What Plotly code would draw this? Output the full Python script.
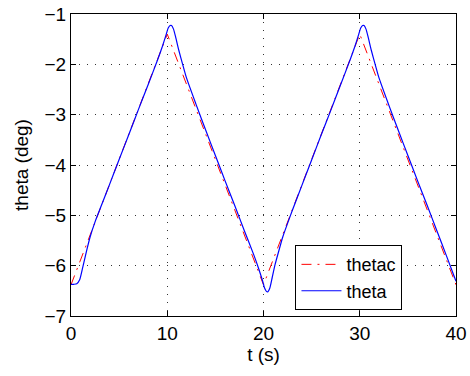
import plotly.graph_objects as go

# thetac (commanded) - triangle reference
t_cmd = [0, 10, 20, 30, 40]
thetac = [-6.38, -1.40, -6.38, -1.40, -6.38]

# theta (response)
t_resp = [0, 0.3, 0.6, 0.9, 1.2, 1.6, 2.0, 2.5, 3.0, 4, 5, 6, 7, 8, 9, 9.5, 9.9,
          10.1, 10.3, 10.45, 10.65, 10.9, 11.2, 11.6, 12, 13, 14, 15, 16, 17, 18,
          19, 19.5, 19.9, 20.1, 20.3, 20.45, 20.65, 20.9, 21.2, 21.6, 22, 22.5,
          23, 24, 25, 26, 27, 28, 29, 29.5, 29.9, 30.1, 30.3, 30.45, 30.65, 30.9,
          31.2, 31.6, 32, 33, 34, 35, 36, 37, 38, 39, 40]
theta = [-6.37, -6.37, -6.36, -6.28, -6.05, -5.72, -5.42, -5.13, -4.88, -4.39,
         -3.89, -3.40, -2.90, -2.41, -1.91, -1.64, -1.40, -1.28, -1.23, -1.23,
         -1.30, -1.48, -1.72, -2.00, -2.27, -2.80, -3.31, -3.81, -4.31, -4.80,
         -5.30, -5.79, -6.06, -6.30, -6.44, -6.51, -6.52, -6.45, -6.24, -5.98,
         -5.70, -5.43, -5.16, -4.90, -4.40, -3.90, -3.40, -2.91, -2.41, -1.91,
         -1.64, -1.40, -1.28, -1.23, -1.23, -1.30, -1.48, -1.72, -2.00, -2.27,
         -2.80, -3.31, -3.81, -4.31, -4.80, -5.30, -5.80, -6.31]

x_ticks = [0, 10, 20, 30, 40]
y_ticks = [-7, -6, -5, -4, -3, -2, -1]

FONT = "Liberation Sans, Arial, sans-serif"

fig = go.Figure()
fig.add_trace(go.Scatter(x=t_cmd, y=thetac, mode="lines", name="thetac",
                         line=dict(color="#FF0000", width=1, dash="10px,6px,2px,6px")))
fig.add_trace(go.Scatter(x=t_resp, y=theta, mode="lines", name="theta",
                         line=dict(color="#0000FF", width=1.2, shape="spline", smoothing=0.6)))

axis_common = dict(showline=True, linecolor="black", linewidth=1, mirror="ticks",
                   ticks="inside", ticklen=5, tickcolor="black", showgrid=True,
                   gridcolor="#333333", gridwidth=1, griddash="1px,7px",
                   zeroline=False, automargin=False,
                   tickfont=dict(family=FONT, size=19, color="black"))

fig.update_xaxes(range=[0, 40], tickvals=x_ticks, ticktext=[str(v) for v in x_ticks],
                 title=dict(text="t (s)", font=dict(family=FONT, size=19, color="black"), standoff=2),
                 **axis_common)
fig.update_yaxes(range=[-7, -1], tickvals=y_ticks, ticktext=["\u2212" + str(-v) for v in y_ticks],
                 title=dict(text="theta (deg)", font=dict(family=FONT, size=19, color="black"), standoff=10),
                 **axis_common)

fig.update_layout(
    width=470, height=376,
    margin=dict(l=71, r=14, t=14, b=60, autoexpand=False),
    plot_bgcolor="white", paper_bgcolor="white",
    font=dict(family=FONT, size=19, color="black"),
    showlegend=True,
    legend=dict(x=0.722, y=0.127, xanchor="center", yanchor="middle",
                bgcolor="white", bordercolor="black", borderwidth=1,
                itemwidth=40, tracegroupgap=0,
                font=dict(family=FONT, size=18, color="black")),
)

# remove the default page margin so the figure sits at the window's top-left corner
fig.write_html("out.html", config={"displayModeBar": False},
               post_script="document.body.style.margin='0px';document.body.style.overflow='hidden';")
